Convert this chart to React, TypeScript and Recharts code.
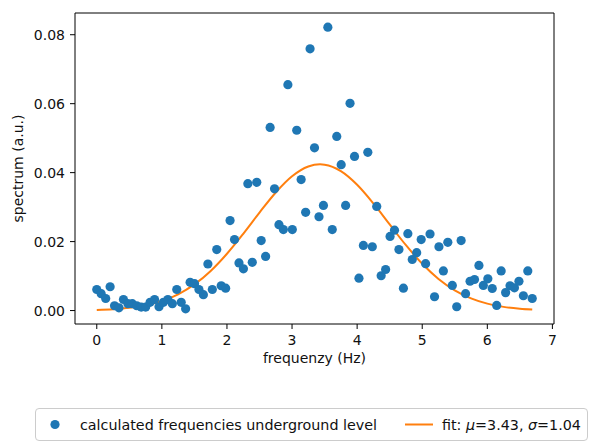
import React from 'react';
import { ComposedChart, Scatter, Line, XAxis, YAxis, ReferenceArea, Legend } from 'recharts';

const frequencies = [
  0, 0.068, 0.137, 0.205, 0.273, 0.341, 0.41, 0.478, 0.546, 0.614,
  0.683, 0.751, 0.819, 0.888, 0.956, 1.024, 1.092, 1.161, 1.229, 1.297,
  1.365, 1.434, 1.502, 1.57, 1.638, 1.707, 1.775, 1.843, 1.912, 1.98,
  2.048, 2.116, 2.185, 2.253, 2.321, 2.389, 2.458, 2.526, 2.594, 2.663,
  2.731, 2.799, 2.867, 2.936, 3.004, 3.072, 3.14, 3.209, 3.277, 3.345,
  3.414, 3.482, 3.55, 3.618, 3.687, 3.755, 3.823, 3.891, 3.96, 4.028,
  4.096, 4.164, 4.233, 4.301, 4.369, 4.438, 4.506, 4.574, 4.642, 4.711,
  4.779, 4.847, 4.915, 4.984, 5.052, 5.12, 5.189, 5.257, 5.325, 5.393,
  5.462, 5.53, 5.598, 5.666, 5.735, 5.803, 5.871, 5.939, 6.008, 6.076,
  6.144, 6.213, 6.281, 6.349, 6.417, 6.486, 6.554, 6.622, 6.69,
];

const spectrum = [
  0.0061, 0.0049, 0.0035, 0.0069, 0.0014, 0.0008, 0.0032, 0.002, 0.002, 0.0014,
  0.001, 0.001, 0.0024, 0.0032, 0.0011, 0.0024, 0.0032, 0.002, 0.0061, 0.0024,
  0.0005, 0.0082, 0.0078, 0.0061, 0.0046, 0.0135, 0.0061, 0.0177, 0.0072, 0.0065,
  0.0261, 0.0206, 0.0138, 0.0121, 0.0368, 0.014, 0.0372, 0.0203, 0.0157, 0.0531,
  0.0353, 0.0249, 0.0235, 0.0655, 0.0235, 0.0523, 0.038, 0.0285, 0.0759, 0.0472,
  0.0272, 0.0305, 0.0822, 0.0235, 0.0505, 0.0423, 0.0305, 0.0601, 0.0447, 0.0094,
  0.0189, 0.0459, 0.0185, 0.0302, 0.0101, 0.0119, 0.0215, 0.0233, 0.0177, 0.0065,
  0.0223, 0.0148, 0.0168, 0.0206, 0.0136, 0.0222, 0.004, 0.0185, 0.0115, 0.0198,
  0.0073, 0.0011, 0.0203, 0.0049, 0.0085, 0.009, 0.0131, 0.0073, 0.0092, 0.0064,
  0.0015, 0.0115, 0.0052, 0.0072, 0.0066, 0.0085, 0.0043, 0.0115, 0.0035,
];

const fitFrequencies = [
  0, 0.25, 0.5, 0.75, 1, 1.25, 1.5, 1.75, 2, 2.25, 2.5, 2.75, 3, 3.25, 3.43,
  3.5, 3.75, 4, 4.25, 4.5, 4.75, 5, 5.25, 5.5, 5.75, 6, 6.25, 6.5, 6.69,
];

const fitValues = [
  0.000184, 0.000396, 0.000801, 0.001533, 0.002765, 0.004715, 0.007577, 0.0115,
  0.01648, 0.02227, 0.02842, 0.03424, 0.03893, 0.04177, 0.0424, 0.0423, 0.04044,
  0.03649, 0.03107, 0.02497, 0.01895, 0.01357, 0.00917, 0.00585, 0.00352, 0.002,
  0.00107, 0.000544, 0.000312,
];

const xTicks = [0, 1, 2, 3, 4, 5, 6, 7];
const yTicks = [0, 0.02, 0.04, 0.06, 0.08];

const scatterName = 'calculated frequencies underground level';
const fitName = 'fit: μ=3.43, σ=1.04';

const scatterData = frequencies.map((f, i) => ({ x: f, y: spectrum[i] }));
const fitData = fitFrequencies.map((f, i) => ({ x: f, y: fitValues[i] }));

const FONT = '"DejaVu Sans", sans-serif';
const BLUE = '#1f77b4';
const ORANGE = '#ff7f0e';
const TEXT = '#111';

const X_DOMAIN: [number, number] = [-0.3345, 7.0245];
const Y_DOMAIN: [number, number] = [-0.0039, 0.0863];

const tickStyle = { fill: TEXT, fontSize: 14, fontFamily: FONT };

const XLabel = (props: any) => {
  const vb = props.viewBox || {};
  return (
    <text
      x={vb.x + vb.width / 2}
      y={vb.y + 34}
      textAnchor="middle"
      dominantBaseline="central"
      fontSize={14}
      fontFamily={FONT}
      fill={TEXT}
    >
      frequenzy (Hz)
    </text>
  );
};

const YLabel = (props: any) => {
  const vb = props.viewBox || {};
  const cx = vb.x + 18;
  const cy = vb.y + vb.height / 2;
  return (
    <text
      x={cx}
      y={cy}
      transform={`rotate(-90, ${cx}, ${cy})`}
      textAnchor="middle"
      dominantBaseline="central"
      fontSize={14}
      fontFamily={FONT}
      fill={TEXT}
    >
      spectrum (a.u.)
    </text>
  );
};

const Dot = (props: any) => {
  const { cx, cy } = props;
  if (cx == null || cy == null) return null;
  return <circle cx={cx} cy={cy} r={4.6} fill={BLUE} />;
};

const LegendContent = () => (
  <div
    style={{
      boxSizing: 'border-box',
      width: 553,
      height: 33,
      border: '1px solid #cccccc',
      borderRadius: 4,
      background: 'rgba(255,255,255,0.8)',
      position: 'relative',
    }}
  >
    <svg width={553} height={33} style={{ position: 'absolute', left: -1, top: -1 }}>
      <circle cx={20} cy={16.5} r={4.6} fill={BLUE} />
      <text x={45} y={16.5} dominantBaseline="central" fontSize={14.3} fontFamily={FONT} fill={TEXT}>
        {scatterName}
      </text>
      <line x1={370} x2={398} y1={16.5} y2={16.5} stroke={ORANGE} strokeWidth={2} />
      <text x={407} y={16.5} dominantBaseline="central" fontSize={14.3} fontFamily={FONT} fill={TEXT}>
        fit: <tspan fontStyle="italic">μ</tspan>=3.43, <tspan fontStyle="italic">σ</tspan>=1.04
      </text>
    </svg>
  </div>
);

export default function App() {
  return (
    <div style={{ position: 'absolute', left: 0, top: 0, width: 590, height: 442, background: '#fff' }}>
      <ComposedChart width={590} height={442} margin={{ top: 13, right: 36, bottom: 68, left: 0 }}>
        <XAxis
          type="number"
          dataKey="x"
          domain={X_DOMAIN}
          ticks={xTicks}
          allowDataOverflow
          height={50}
          tickSize={5}
          tickMargin={6}
          axisLine={false}
          tickLine={{ stroke: '#000' }}
          tick={tickStyle}
          label={<XLabel />}
        />
        <YAxis
          type="number"
          dataKey="y"
          domain={Y_DOMAIN}
          ticks={yTicks}
          allowDataOverflow
          width={75}
          tickSize={5}
          tickMargin={5}
          axisLine={false}
          tickLine={{ stroke: '#000' }}
          tick={tickStyle}
          tickFormatter={(v: number) => v.toFixed(2)}
          label={<YLabel />}
        />
        <ReferenceArea
          x1={X_DOMAIN[0]}
          x2={X_DOMAIN[1]}
          y1={Y_DOMAIN[0]}
          y2={Y_DOMAIN[1]}
          fill="none"
          stroke="#000"
          strokeWidth={1}
          ifOverflow="visible"
        />
        <Scatter
          name={scatterName}
          data={scatterData}
          dataKey="y"
          fill={BLUE}
          shape={<Dot />}
          isAnimationActive={false}
        />
        <Line
          name={fitName}
          data={fitData}
          dataKey="y"
          type="monotone"
          stroke={ORANGE}
          strokeWidth={2}
          dot={false}
          activeDot={false}
          isAnimationActive={false}
        />
        <Legend
          layout="horizontal"
          verticalAlign="middle"
          align="center"
          width={553}
          height={33}
          wrapperStyle={{ position: 'absolute', left: 35, top: 408, width: 553, height: 33 }}
          content={<LegendContent />}
        />
      </ComposedChart>
    </div>
  );
}
